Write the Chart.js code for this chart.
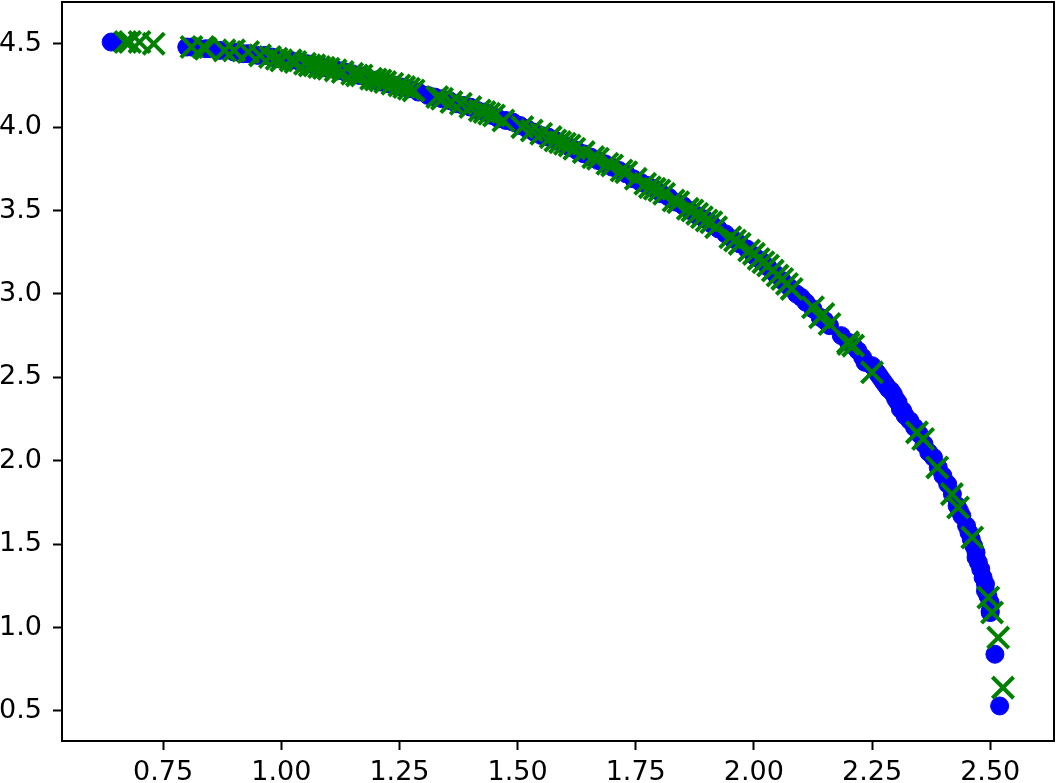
<!DOCTYPE html>
<html>
<head>
<meta charset="utf-8">
<script src="https://cdn.jsdelivr.net/npm/chart.js@4/dist/chart.umd.min.js"></script>
<style>
    html, body { margin: 0; padding: 0; background: #ffffff; }
    #wrap { width: 1058px; height: 783px; }
</style>
</head>
<body>
<div id="wrap"><canvas id="scatterChart"></canvas></div>
<script>
// blue circles
const blueX = [0.64, 0.65, 0.80, 0.81, 0.82, 0.84, 0.85, 0.87, 0.90, 0.92, 0.93, 0.95, 0.965, 0.98, 0.99, 1.01,
    1.02, 1.04, 1.055, 1.07, 1.09, 1.10, 1.12, 1.135, 1.15, 1.165, 1.18, 1.195, 1.21, 1.225, 1.24, 1.255,
    1.27, 1.29, 1.31, 1.325, 1.34, 1.355, 1.37, 1.385, 1.40, 1.415, 1.43, 1.445, 1.46, 1.475, 1.49, 1.505,
    1.52, 1.535, 1.55, 1.565, 1.58, 1.595, 1.61, 1.625, 1.64, 1.655, 1.67, 1.685, 1.70, 1.715, 1.73, 1.745,
    1.76, 1.775, 1.79, 1.805, 1.82, 1.835, 1.85, 1.865, 1.88, 1.895, 1.91, 1.925, 1.94, 1.955, 1.97, 1.985,
    2.00, 2.015, 2.03, 2.045, 2.06, 2.075, 2.09, 2.10, 2.11, 2.125, 2.14, 2.15, 2.16, 2.185, 2.20, 2.21,
    2.22, 2.23, 2.235, 2.25, 2.26, 2.265, 2.27, 2.275, 2.28, 2.285, 2.29, 2.295, 2.30, 2.305, 2.31, 2.315,
    2.32, 2.33, 2.34, 2.35, 2.36, 2.37, 2.38, 2.39, 2.40, 2.41, 2.42, 2.43, 2.435, 2.44, 2.45, 2.455,
    2.46, 2.465, 2.47, 2.47, 2.475, 2.48, 2.485, 2.49, 2.49, 2.495, 2.50, 2.50, 2.50, 2.51, 2.52];
const blueY = [4.51, 4.51, 4.48, 4.48, 4.48, 4.47, 4.47, 4.46, 4.45, 4.44, 4.44, 4.43, 4.43, 4.42, 4.41, 4.40,
    4.40, 4.39, 4.38, 4.37, 4.36, 4.35, 4.34, 4.33, 4.32, 4.31, 4.30, 4.28, 4.27, 4.26, 4.25, 4.24,
    4.23, 4.21, 4.19, 4.18, 4.17, 4.16, 4.14, 4.13, 4.12, 4.10, 4.09, 4.07, 4.05, 4.04, 4.03, 4.01,
    3.99, 3.97, 3.95, 3.94, 3.92, 3.90, 3.88, 3.86, 3.84, 3.82, 3.80, 3.78, 3.76, 3.74, 3.72, 3.69,
    3.67, 3.65, 3.63, 3.60, 3.58, 3.55, 3.53, 3.50, 3.47, 3.45, 3.42, 3.39, 3.36, 3.33, 3.30, 3.27,
    3.23, 3.20, 3.16, 3.12, 3.08, 3.04, 3.00, 2.98, 2.95, 2.91, 2.86, 2.84, 2.81, 2.75, 2.71, 2.69,
    2.66, 2.62, 2.59, 2.57, 2.53, 2.51, 2.49, 2.47, 2.45, 2.43, 2.42, 2.40, 2.37, 2.35, 2.31, 2.30,
    2.27, 2.24, 2.20, 2.16, 2.10, 2.05, 2.02, 1.96, 1.91, 1.86, 1.80, 1.73, 1.70, 1.67, 1.61, 1.57,
    1.53, 1.49, 1.45, 1.42, 1.39, 1.35, 1.30, 1.26, 1.22, 1.19, 1.15, 1.10, 1.09, 0.84, 0.53];

// green crosses
const greenX = [0.67, 0.68, 0.70, 0.73, 0.81, 0.835, 0.84, 0.88, 0.90, 0.93, 0.955, 0.976, 0.99, 1.00, 1.02, 1.03,
    1.05, 1.06, 1.07, 1.08, 1.09, 1.10, 1.115, 1.13, 1.15, 1.16, 1.17, 1.19, 1.20, 1.21, 1.22, 1.235,
    1.25, 1.26, 1.27, 1.28, 1.33, 1.34, 1.36, 1.38, 1.40, 1.42, 1.43, 1.44, 1.45, 1.47, 1.51, 1.53,
    1.55, 1.57, 1.58, 1.59, 1.60, 1.61, 1.62, 1.64, 1.66, 1.67, 1.69, 1.70, 1.72, 1.73, 1.75, 1.77,
    1.78, 1.79, 1.80, 1.81, 1.83, 1.84, 1.86, 1.87, 1.88, 1.89, 1.90, 1.91, 1.92, 1.95, 1.96, 1.97,
    1.99, 2.00, 2.01, 2.02, 2.03, 2.04, 2.05, 2.06, 2.07, 2.08, 2.125, 2.14, 2.147, 2.16, 2.199, 2.20,
    2.21, 2.25, 2.345, 2.358, 2.388, 2.419, 2.432, 2.462, 2.496, 2.504, 2.517, 2.527];
const greenY = [4.51, 4.51, 4.51, 4.50, 4.48, 4.48, 4.47, 4.46, 4.46, 4.45, 4.43, 4.42, 4.41, 4.40, 4.40, 4.39,
    4.38, 4.37, 4.37, 4.36, 4.355, 4.35, 4.34, 4.33, 4.32, 4.31, 4.31, 4.29, 4.285, 4.28, 4.27, 4.26,
    4.25, 4.24, 4.23, 4.22, 4.18, 4.17, 4.15, 4.14, 4.12, 4.10, 4.09, 4.08, 4.07, 4.04, 4.00, 3.98,
    3.96, 3.94, 3.92, 3.91, 3.90, 3.89, 3.87, 3.85, 3.82, 3.81, 3.78, 3.77, 3.74, 3.73, 3.69, 3.66,
    3.64, 3.63, 3.62, 3.60, 3.56, 3.55, 3.51, 3.50, 3.48, 3.46, 3.44, 3.43, 3.40, 3.34, 3.32, 3.30,
    3.26, 3.24, 3.21, 3.19, 3.17, 3.14, 3.11, 3.09, 3.06, 3.03, 2.92, 2.86, 2.88, 2.82, 2.71, 2.70,
    2.69, 2.53, 2.17, 2.13, 1.96, 1.80, 1.72, 1.54, 1.18, 1.09, 0.94, 0.64];

const xTicks = [0.75, 1.00, 1.25, 1.50, 1.75, 2.00, 2.25, 2.50];
const yTicks = [0.5, 1.0, 1.5, 2.0, 2.5, 3.0, 3.5, 4.0, 4.5];

function toPoints(xs, ys) {
    return xs.map((x, i) => ({ x: x, y: ys[i] }));
}

// full box around the plot area, like the reference
const frameBox = {
    id: "frameBox",
    afterDraw(chart) {
        const a = chart.chartArea;
        const ctx = chart.ctx;
        ctx.save();
        ctx.strokeStyle = "#000000";
        ctx.lineWidth = 2;
        ctx.strokeRect(a.left, a.top, a.right - a.left, a.bottom - a.top);
        ctx.restore();
    }
};

const tickFont = { family: "DejaVu Sans", size: 27 };

new Chart(document.getElementById("scatterChart"), {
    type: "scatter",
    data: {
        datasets: [{
            data: toPoints(greenX, greenY),
            pointStyle: "crossRot",
            pointRadius: 15,
            pointHoverRadius: 15,
            borderWidth: 4,
            borderColor: "#008000",
            backgroundColor: "#008000",
            order: 1
        }, {
            data: toPoints(blueX, blueY),
            pointStyle: "circle",
            pointRadius: 9,
            pointHoverRadius: 9,
            borderWidth: 1,
            borderColor: "#0000ff",
            backgroundColor: "#0000ff",
            order: 2
        }]
    },
    options: {
        responsive: true,
        maintainAspectRatio: false,
        animation: false,
        layout: { autoPadding: false, padding: { top: 2, right: 4, left: 0, bottom: 0 } },
        plugins: {
            legend: { display: false },
            tooltip: { enabled: false }
        },
        scales: {
            x: {
                type: "linear",
                min: 0.536,
                max: 2.635,
                afterBuildTicks: (scale) => { scale.ticks = xTicks.map(v => ({ value: v })); },
                afterFit: (scale) => {
                    scale.height = 42;
                    scale.paddingLeft = 0;
                    scale.paddingRight = 0;
                },
                grid: { drawOnChartArea: false, drawTicks: true, tickLength: 9, tickWidth: 2, tickColor: "#000000" },
                border: { display: true, color: "#000000", width: 2 },
                ticks: {
                    color: "#000000",
                    font: tickFont,
                    padding: 7,
                    maxRotation: 0,
                    callback: (v) => v.toFixed(2)
                }
            },
            y: {
                type: "linear",
                min: 0.32,
                max: 4.75,
                afterBuildTicks: (scale) => { scale.ticks = yTicks.map(v => ({ value: v })); },
                afterFit: (scale) => {
                    scale.width = 62;
                    scale.paddingTop = 0;
                    scale.paddingBottom = 0;
                },
                grid: { drawOnChartArea: false, drawTicks: true, tickLength: 9, tickWidth: 2, tickColor: "#000000" },
                border: { display: true, color: "#000000", width: 2 },
                ticks: {
                    color: "#000000",
                    font: tickFont,
                    padding: 11,
                    callback: (v) => v.toFixed(1)
                }
            }
        }
    },
    plugins: [frameBox]
});
</script>
</body>
</html>
